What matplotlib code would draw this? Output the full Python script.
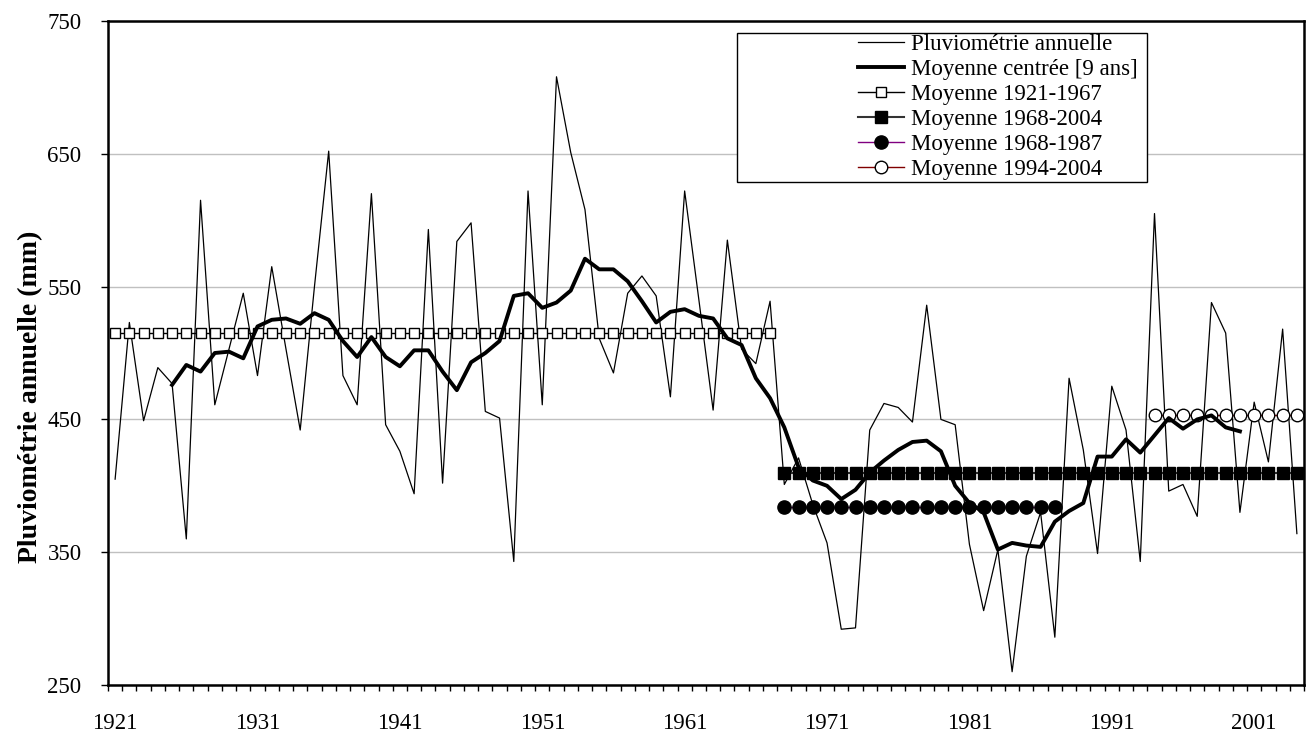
import matplotlib
matplotlib.use("Agg")
import matplotlib.pyplot as plt
from matplotlib.patches import Rectangle
import numpy as np

plt.rcParams['font.family'] = ['Liberation Serif', 'DejaVu Serif']

# data
years = list(range(1921, 2005))
pluie = [405, 523, 449, 489, 477, 360, 615, 461, 503, 545,
         483, 565, 503, 442, 550, 652, 483, 461, 620, 446,
         426, 394, 593, 402, 584, 598, 456, 451, 343, 622,
         461, 708, 651, 608, 511, 485, 545, 558, 543, 467,
         622, 540, 457, 585, 503, 492, 539, 401, 421, 386,
         357, 292, 293, 442, 462, 459, 448, 536, 450, 446,
         356, 306, 352, 260, 347, 380, 286, 481, 427, 349,
         475, 442, 343, 605, 396, 401, 377, 538, 515, 380,
         463, 418, 518, 364]

# moyenne mobile centree sur 9 ans, 1925-2000
mm_years = list(range(1925, 2001))
mm9 = [476, 491, 486, 500, 501, 496, 520, 525, 526, 522,
       530, 525, 509, 497, 512, 497, 490, 502, 502, 486,
       472, 493, 500, 509, 543, 545, 534, 538, 547, 571,
       563, 563, 554, 539, 523, 531, 533, 528, 526, 511,
       506, 481, 466, 444, 414, 404, 400, 390, 397, 410,
       419, 427, 433, 434, 426, 400, 387, 380, 352, 357,
       355, 354, 373, 381, 387, 422, 422, 435, 425, 438,
       451, 443, 450, 453, 444, 441]

moy_1921_1967 = 515
moy_1968_2004 = 410
moy_1968_1987 = 384
moy_1994_2004 = 453

x = np.arange(len(years))
def idx(y0, y1):
    return np.arange(years.index(y0), years.index(y1) + 1)

fig = plt.figure(figsize=(13.08, 7.49), dpi=100)
ax = fig.add_axes([108/1308, 64/749, 1196/1308, 664/749])

ax.plot(x, pluie, color='black', lw=0.9, zorder=2, label='Pluviométrie annuelle')

i1 = idx(1921, 1967)
ax.plot(i1, [moy_1921_1967]*len(i1), color='black', lw=1.0, marker='s', ms=7.5,
        mfc='white', mec='black', mew=1.0, zorder=3, label='Moyenne 1921-1967')
i2 = idx(1968, 2004)
ax.plot(i2, [moy_1968_2004]*len(i2), color='#333333', lw=1.5, marker='s', ms=8,
        mfc='black', mec='black', zorder=3, label='Moyenne 1968-2004')
i3 = idx(1968, 1987)
ax.plot(i3, [moy_1968_1987]*len(i3), color='#800080', lw=1.0, marker='o', ms=9.5,
        mfc='black', mec='black', zorder=3, label='Moyenne 1968-1987')
i4 = idx(1994, 2004)
ax.plot(i4, [moy_1994_2004]*len(i4), color='#800000', lw=1.0, marker='o', ms=9,
        mfc='white', mec='black', mew=1.0, zorder=3, label='Moyenne 1994-2004')

xm = np.array([years.index(y) for y in mm_years])
ax.plot(xm, mm9, color='black', lw=2.8, solid_joinstyle='round', zorder=4,
        label='Moyenne centrée [9 ans]')

ax.set_xlim(-0.5, len(years) - 0.5)
ax.set_ylim(250, 750)
ax.set_yticks(range(250, 751, 100))
ax.yaxis.grid(True, color='#c0c0c0', lw=1.0)
ax.set_axisbelow(True)

ax.set_xticks(x[::10])
ax.set_xticklabels([str(y) for y in years[::10]])
ax.set_xticks(np.arange(-0.5, len(years), 1), minor=True)
ax.tick_params(axis='x', which='major', length=0, pad=20, labelsize=16.5)
ax.tick_params(axis='x', which='minor', length=4, width=1, direction='out')
ax.tick_params(axis='y', length=5, width=1, direction='out', pad=14, labelsize=16.5)

for s in ax.spines.values():
    s.set_linewidth(1.8)

ax.set_ylabel('Pluviométrie annuelle (mm)', fontsize=20, fontweight='bold')
ax.yaxis.set_label_coords(-0.054, 0.434)

# legend box
ax.add_patch(Rectangle((737/1308, 1 - 182/749), 410/1308, 149/749,
                       transform=fig.transFigure, facecolor='white',
                       edgecolor='black', lw=1.0, zorder=5, clip_on=False))
h, l = ax.get_legend_handles_labels()
order = [0, 5, 1, 2, 3, 4]
leg = ax.legend([h[k] for k in order], [l[k] for k in order],
                loc='upper left', bbox_to_anchor=(856/1308, 1 - 32/749),
                bbox_transform=fig.transFigure, frameon=False, fontsize=16.5,
                borderpad=0.1, labelspacing=0.17, handlelength=2.0,
                handletextpad=0.3, borderaxespad=0)
leg.set_zorder(6)

fig.savefig('out.png', dpi=100)
